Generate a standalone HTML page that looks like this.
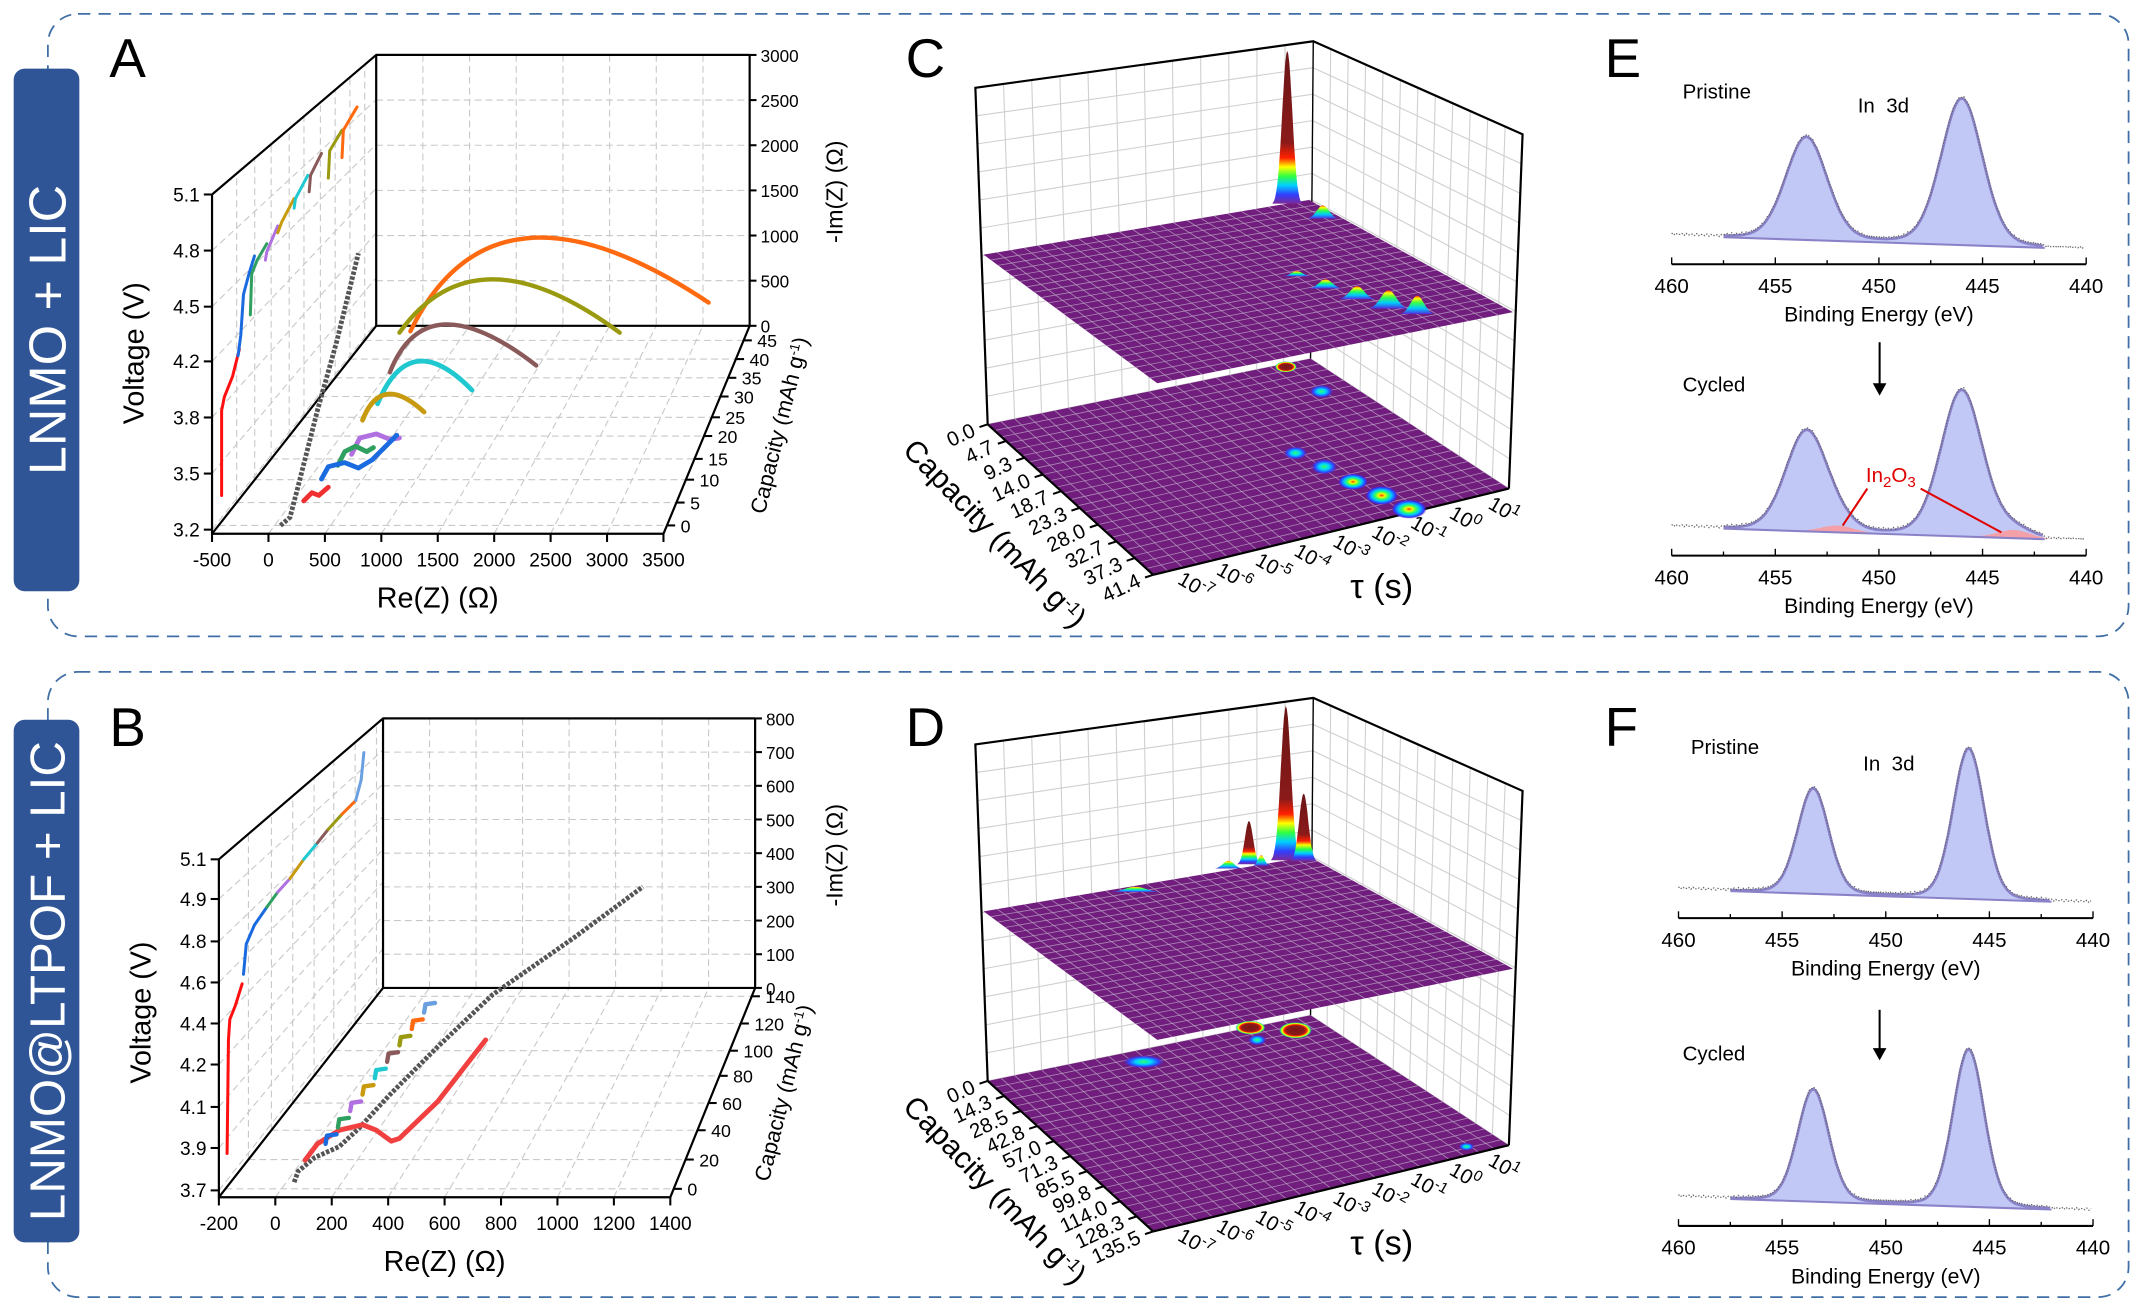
<!DOCTYPE html>
<html><head><meta charset="utf-8">
<style>
html,body{margin:0;padding:0;background:#fff;}
svg{display:block;font-family:"Liberation Sans",Arial,sans-serif;}
</style></head>
<body>
<svg id="s" width="2145" height="1311" viewBox="0 0 1568 958" xmlns="http://www.w3.org/2000/svg">
<defs>
<linearGradient id="spk" x1="0" y1="1" x2="0" y2="0">
<stop offset="0" stop-color="#7b2a9a"/><stop offset="0.06" stop-color="#3040ff"/><stop offset="0.12" stop-color="#00d0ff"/><stop offset="0.18" stop-color="#30ff40"/><stop offset="0.24" stop-color="#ffff00"/><stop offset="0.3" stop-color="#ff2000"/><stop offset="0.4" stop-color="#8a1a1a"/><stop offset="1" stop-color="#6a1515"/>
</linearGradient>
<linearGradient id="bmp" x1="0" y1="1" x2="0" y2="0">
<stop offset="0" stop-color="#5030e0"/><stop offset="0.3" stop-color="#00c8ff"/><stop offset="0.6" stop-color="#30ff50"/><stop offset="0.85" stop-color="#ffff00"/><stop offset="1" stop-color="#ff3000"/>
</linearGradient>
<radialGradient id="blob">
<stop offset="0" stop-color="#ff3000"/><stop offset="0.2" stop-color="#f0ff00"/><stop offset="0.4" stop-color="#30ff60"/><stop offset="0.6" stop-color="#00c8ff"/><stop offset="0.85" stop-color="#3030ff"/><stop offset="1" stop-color="#701c7c" stop-opacity="0"/>
</radialGradient>
<radialGradient id="blob2">
<stop offset="0" stop-color="#30ff60"/><stop offset="0.35" stop-color="#00d8ff"/><stop offset="0.7" stop-color="#3040ff"/><stop offset="1" stop-color="#701c7c" stop-opacity="0"/>
</radialGradient>
<radialGradient id="ring">
<stop offset="0" stop-color="#7a1515"/><stop offset="0.55" stop-color="#8a1a1a"/><stop offset="0.7" stop-color="#ff2000"/><stop offset="0.8" stop-color="#ffff00"/><stop offset="0.9" stop-color="#30ff60"/><stop offset="1" stop-color="#3040ff" stop-opacity="0"/>
</radialGradient>
</defs>
<g id="g"></g>
</svg>
<script>
var o=[];
function L(x1,y1,x2,y2,st){o.push('<line x1="'+x1+'" y1="'+y1+'" x2="'+x2+'" y2="'+y2+'" '+(st||'stroke="#000" stroke-width="1.5"')+'/>');}
function T(x,y,t,sz,an,ex){o.push('<text x="'+x+'" y="'+y+'" font-size="'+sz+'" text-anchor="'+(an||'start')+'" '+(ex||'')+'>'+t+'</text>');}
function P(d,st){o.push('<path d="'+d+'" '+st+'/>');}
function pts(a){return a.map(function(p){return p[0].toFixed(1)+','+p[1].toFixed(1)}).join(' ');}
function PL(a,st){o.push('<polyline points="'+pts(a)+'" fill="none" '+st+'/>');}
function PG(a,st){o.push('<polygon points="'+pts(a)+'" '+st+'/>');}
function lerp(a,b,t){return [a[0]+(b[0]-a[0])*t,a[1]+(b[1]-a[1])*t];}

o.push('<rect x="35" y="10" width="1521" height="455" rx="22" fill="none" stroke="#3f6fa6" stroke-width="1.3" stroke-dasharray="9 6"/>');
o.push('<rect x="35" y="491" width="1521" height="457" rx="22" fill="none" stroke="#3f6fa6" stroke-width="1.3" stroke-dasharray="9 6"/>');
o.push('<rect x="10" y="50" width="48" height="382" rx="8" fill="#2f5597"/>');
o.push('<rect x="10" y="526" width="48" height="382" rx="8" fill="#2f5597"/>');
T(0,0,'LNMO + LIC',38,'middle','fill="#fff" transform="translate(48,241) rotate(-90)"');
T(0,0,'LNMO@LTPOF + LIC',36,'middle','fill="#fff" transform="translate(47,717) rotate(-90)"');
T(80,56,'A',40);T(80,545,'B',40);T(662,56,'C',40);T(662,545,'D',40);T(1173,56,'E',40);T(1173,545,'F',40);

var gd='stroke="#c8c8c8" stroke-width="0.8" stroke-dasharray="5 3"';
function nyq(cfg){
 var FL=cfg.FL,FR=cfg.FR,BR=cfg.BR,BL=cfg.BL,top=cfg.top;
 for(var i=0;i<cfg.nre;i++){var p=lerp(BL,BR,i/(cfg.nre-1));L(p[0],top,p[0],BL[1],gd);}
 for(var i=0;i<cfg.nim;i++){var y=top+(BL[1]-top)*i/(cfg.nim-1);L(BL[0],y,BR[0],y,gd);}
 for(var i=0;i<cfg.nre;i++){var a=lerp(FL,FR,i/(cfg.nre-1)),b=lerp(BL,BR,i/(cfg.nre-1));L(a[0],a[1],b[0],b[1],gd);}
 for(var i=0;i<cfg.ncap;i++){var v=cfg.capv[i];var a=lerp(FL,BL,v),b=lerp(FR,BR,v);L(a[0],a[1],b[0],b[1],gd);}
 for(var i=0;i<cfg.volt.length;i++){var yf=cfg.volt[i][1];var yb=cfg.lwTop+(BL[1]-cfg.lwTop)*(yf-cfg.vtop)/(FL[1]-cfg.vtop);L(FL[0],yf,BL[0],yb,gd);}
 for(var i=1;i<cfg.ncap;i++){var v=cfg.capv[i];var a=lerp(FL,BL,v);var tt=lerp([FL[0],cfg.vtop],[BL[0],cfg.lwTop],v);L(a[0],a[1],tt[0],tt[1],gd);}
 var k='stroke="#000" stroke-width="1.6" fill="none"';
 PL([[FL[0],cfg.vtop],[BL[0],cfg.lwTop],[BR[0],cfg.lwTop]],k);
 PL([[BL[0],cfg.lwTop],[BL[0],BL[1]],[BR[0],BR[1]],[BR[0],top]],k);
 PL([[BL[0],top],[BR[0],top]],k);
 PL([[FL[0],cfg.vtop],FL,FR,BR],k);
 L(FL[0],FL[1],BL[0],BL[1],k);
 cfg.volt.forEach(function(t){L(FL[0]-6,t[1],FL[0],t[1]);T(FL[0]-9,t[1]+5,t[0],14,'end');});
 cfg.re.forEach(function(t,i){var p=lerp(FL,FR,i/(cfg.re.length-1));L(p[0],FL[1],p[0],FL[1]+6);T(p[0],FL[1]+24,t,14,'middle');});
 cfg.im.forEach(function(t,i){var y=top+(BL[1]-top)*i/(cfg.im.length-1);L(BR[0],y,BR[0]+5,y);T(BR[0]+8,y+5,t,12.5);});
 cfg.cap.forEach(function(t,i){var p=lerp(FR,BR,cfg.capv[i]);L(p[0],p[1],p[0]+6,p[1]);T(p[0]+10,p[1]+5,t,13);});
}
nyq({FL:[155,390],FR:[485,390],BR:[548,238],BL:[275,238],top:40,lwTop:40,vtop:142,nre:9,nim:7,ncap:10,
 capv:[0.04,0.15,0.26,0.36,0.47,0.56,0.66,0.75,0.84,0.93],
 volt:[['5.1',142],['4.8',183],['4.5',224],['4.2',264],['3.8',305],['3.5',346],['3.2',387]],
 re:['-500','0','500','1000','1500','2000','2500','3000','3500'],
 im:['3000','2500','2000','1500','1000','500','0'],
 cap:['0','5','10','15','20','25','30','35','40','45']});
nyq({FL:[160,875],FR:[490,875],BR:[552,722],BL:[280,722],top:525,lwTop:525,vtop:628,nre:9,nim:9,ncap:8,
 capv:[0.04,0.18,0.32,0.45,0.58,0.7,0.83,0.96],
 volt:[['5.1',628],['4.9',657],['4.8',688],['4.6',718],['4.4',748],['4.2',778],['4.1',809],['3.9',839],['3.7',870]],
 re:['-200','0','200','400','600','800','1000','1200','1400'],
 im:['800','700','600','500','400','300','200','100','0'],
 cap:['0','20','40','60','80','100','120','140']});
T(0,0,'Voltage (V)',21,'middle','transform="translate(105,258) rotate(-90)"');
T(0,0,'Voltage (V)',21,'middle','transform="translate(110,740) rotate(-90)"');
T(320,444,'Re(Z) (Ω)',21,'middle');T(325,929,'Re(Z) (Ω)',21,'middle');
T(0,0,'-Im(Z) (Ω)',17,'middle','transform="translate(616,140) rotate(-90)"');
T(0,0,'-Im(Z) (Ω)',17,'middle','transform="translate(616,625) rotate(-90)"');
T(0,0,'Capacity (mAh g<tspan dy="-5" font-size="10">-1</tspan><tspan dy="5">)</tspan>',16,'middle','transform="translate(575,312) rotate(-76)"');
T(0,0,'Capacity (mAh g<tspan dy="-5" font-size="10">-1</tspan><tspan dy="5">)</tspan>',16,'middle','transform="translate(578,800) rotate(-76)"');

function Q(s,p,e,col,w){var c=[2*p[0]-(s[0]+e[0])/2,2*p[1]-(s[1]+e[1])/2];P('M'+s+' Q'+c+' '+e,'fill="none" stroke="'+col+'" stroke-width="'+(w||3)+'" stroke-linecap="round"');}
function C(a,col,w){PL(a,'stroke="'+col+'" stroke-width="'+(w||3)+'" stroke-linejoin="round" stroke-linecap="round"');}
Q([300,242],[385,174],[518,221],'#ff6a10',3.2);
Q([292,243],[360,204],[453,243],'#9a9a10',3.2);
Q([285,272],[325,237],[392,267],'#8a5a5a',3.2);
Q([276,295],[305,264],[345,285],'#20c8d0',3.5);
Q([265,307],[283,288],[310,301],'#c89a10',3.5);
C([[257,332],[263,320],[275,317],[285,321],[292,320]],'#b070e0',3.5);
C([[247,340],[252,330],[260,326],[268,330],[273,327]],'#30a060',3.5);
C([[235,350],[240,341],[252,338],[262,342],[272,336],[290,318]],'#1a6ae0',3.5);
C([[222,366],[228,360],[233,362],[240,356]],'#f03030',3.5);
PL([[205,384],[212,378],[218,355],[232,300],[246,250],[262,185]],'stroke="#555" stroke-width="3.5" stroke-dasharray="2.5 1.2"');
C([[162,362],[162,300],[164,290],[170,275],[175,255]],'#ff1010',2.2);
C([[174,260],[176,245],[178,215],[182,200],[186,187]],'#1a6ae0',2.2);
C([[183,230],[184,200],[188,190],[195,178]],'#30a060',2.2);
C([[194,190],[195,184],[203,165]],'#b070e0',2.2);
C([[203,170],[206,162],[215,145]],'#c89a10',2.2);
C([[215,152],[216,145],[225,128]],'#20c8d0',2.2);
C([[226,140],[227,128],[235,112]],'#8a5a5a',2.2);
C([[240,130],[241,110],[250,95]],'#9a9a10',2.2);
C([[250,115],[251,95],[261,78]],'#ff6a10',2.2);
PL([[215,864],[218,856],[230,846],[248,838],[262,825],[285,800],[320,765],[360,727],[420,685],[470,648]],'stroke="#555" stroke-width="3.5" stroke-dasharray="2.5 1.2"');
C([[223,848],[232,836],[248,826],[265,822],[275,826],[286,834],[292,832],[320,805],[355,760]],'#f04040',3.6);
var stc=['#1a6ae0','#30a060','#b070e0','#c89a10','#20c8d0','#8a5a5a','#9a9a10','#ff6a10','#6aa0e0'];
for(var i=0;i<9;i++){var x=238+i*9,y=830-i*12;C([[x,y+6],[x+1,y],[x+8,y-1]],stc[i],3.2);}
C([[166,843],[167,760],[168,745],[172,735],[177,719]],'#ff1010',2.2);
C([[178,712],[180,690],[186,676],[195,663]],'#1a6ae0',2.2);
C([[195,663],[203,652]],'#30a060',2.2);C([[203,652],[212,642]],'#b070e0',2.2);
C([[212,642],[222,628]],'#c89a10',2.2);C([[222,628],[232,616]],'#20c8d0',2.2);
C([[232,616],[240,606]],'#8a5a5a',2.2);C([[240,606],[250,595]],'#9a9a10',2.2);
C([[250,595],[260,585]],'#ff6a10',2.2);C([[260,585],[264,570],[266,550]],'#6aa0e0',2.2);

function drt(dy,D){
 var TL=[713,64+dy],BT=[960,30+dy],RT=[1113,98+dy],LB=[722,310+dy],BB=[958,262+dy],RB=[1103,357+dy],FF=[843,420+dy];
 var g='stroke="#cfcfcf" stroke-width="0.8"';
 for(var i=0;i<=12;i++){var a=lerp(TL,BT,i/12),b=lerp(LB,BB,i/12);L(a[0],a[1],b[0],b[1],g);var c=lerp(BT,RT,i/12),d=lerp(BB,RB,i/12);L(c[0],c[1],d[0],d[1],g);}
 for(var i=1;i<=12;i++){var a=lerp(TL,LB,i/12),b=lerp(BT,BB,i/12),c=lerp(RT,RB,i/12);L(a[0],a[1],b[0],b[1],g);L(b[0],b[1],c[0],c[1],g);}
 var k='stroke="#000" stroke-width="1.6" fill="none"';
 PL([LB,TL,BT,RT,RB],k);L(BT[0],BT[1],BB[0],BB[1],'stroke="#000" stroke-width="1"');
 function plane(A,B,Cc,Dd){PG([A,B,Cc,Dd],'fill="#711d7e"');var gg='stroke="#b9a3c0" stroke-width="0.6" stroke-opacity="0.8"';
  for(var i=1;i<24;i++){var a=lerp(A,B,i/24),b=lerp(Dd,Cc,i/24);L(a[0],a[1],b[0],b[1],gg);var c=lerp(A,Dd,i/24),d=lerp(B,Cc,i/24);L(c[0],c[1],d[0],d[1],gg);}}
 plane(LB,FF,RB,BB);
 plane([719,186+dy],[846,280+dy],[1106,228+dy],[957,146+dy]);
 L(LB[0],LB[1],FF[0],FF[1],k);L(FF[0],FF[1],RB[0],RB[1],k);
 var cl=D?['0.0','14.3','28.5','42.8','57.0','71.3','85.5','99.8','114.0','128.3','135.5']:['0.0','4.7','9.3','14.0','18.7','23.3','28.0','32.7','37.3','41.4'];
 cl.forEach(function(t,i){var p=lerp(LB,FF,i/(cl.length-1));L(p[0]-6,p[1]+2,p[0],p[1]);T(0,0,t,15,'end','transform="translate('+(p[0]-8)+','+(p[1]+8)+') rotate(-25)"');});
 var tl=['7','6','5','4','3','2','1','0','1'];
 tl.forEach(function(t,i){var p=lerp([868,414+dy],[1095,359+dy],i/8);var s=(i<7?'-':'');T(0,0,'10<tspan dy="-6" font-size="11">'+(i==7?'0':s+t)+'</tspan>',15,'start','transform="translate('+(p[0]-8)+','+(p[1]+12)+') rotate(30)"');});
 T(0,0,'Capacity (mAh g<tspan dy="-7" font-size="13">-1</tspan><tspan dy="7">)</tspan>',22,'middle','transform="translate(722,'+(395+dy)+') rotate(46)"');
 T(1010,437+dy,'τ (s)',25,'middle');
}
function spike(cx,base,top,hw){var a=[];for(var i=0;i<=30;i++){var t=-1+i/15;var y=base-(base-top)*Math.exp(-t*t*4.5);a.push([cx+t*hw,y]);}PG(a,'fill="url(#spk)"');}
function bump(cx,base,h,hw){var a=[];for(var i=0;i<=20;i++){var t=-1+i/10;a.push([cx+t*hw,base-h*Math.exp(-t*t*3)]);}PG(a,'fill="url(#bmp)"');}
function blob(x,y,rx,ry,id){o.push('<ellipse cx="'+x+'" cy="'+y+'" rx="'+rx+'" ry="'+ry+'" fill="url(#'+(id||'blob')+')"/>');}
drt(0,false);
spike(941,150,37,11);
bump(967,160,10,11);bump(948,202,4,10);bump(969,211,7,12);bump(992,219,10,13);bump(1015,226,14,14);bump(1036,230,14,12);
blob(940,268,8,4,'ring');blob(966,286,9,5,'blob2');blob(947,331,9,5,'blob2');blob(968,341,10,6,'blob2');blob(989,352,11,6,'blob');blob(1010,362,12,7,'blob');blob(1030,372,13,7,'blob');
drt(480,true);
bump(830,652,4,18);bump(898,635,6,10);spike(913,632,600,9);bump(922,633,8,6);spike(940,630,516,11);spike(953,630,580,10);
blob(914,751,11,5,'ring');blob(947,753,12,6,'ring');blob(919,760,7,4,'blob2');blob(836,776,16,5,'blob2');blob(1072,838,6,3,'blob2');

function xps(ox,oy,p1,p2,sg,red){
 var X=function(e){return 1222+ox+(460-e)*15.15;};
 var bl=function(e){return oy+172+(460-e)*0.5;};
 var axy=oy+193;
 L(1222+ox,axy,1525+ox,axy);
 for(var e=460;e>=440;e-=2.5){var x=X(e);L(x,axy,x,axy-(e%5==0?5:3),'stroke="#000" stroke-width="1"');}
 [460,455,450,445,440].forEach(function(e){T(X(e),axy+21,e,15,'middle');});
 T(X(450),axy+42,'Binding Energy (eV)',15.5,'middle');
 var a=[],n=[];
 function f(e){var v=p1[1]*Math.exp(-Math.pow((e-453.5)/sg,2)/2)*0.85+p1[1]*0.15/(1+Math.pow((e-453.5)/sg/1.2,2));
  v+=p2[1]*Math.exp(-Math.pow((e-446)/sg,2)/2)*0.85+p2[1]*0.15/(1+Math.pow((e-446)/sg/1.2,2));
  if(red){v+=5*Math.exp(-Math.pow((e-452)/0.8,2)/2)+6*Math.exp(-Math.pow((e-443.5)/0.8,2)/2);}return v;}
 for(var e=457.5;e>=442;e-=0.1){a.push([X(e),bl(e)-f(e)]);}
 var fill=a.concat([[X(442),bl(442)],[X(457.5),bl(457.5)]]);
 PG(fill,'fill="#c2c8f5" stroke="none"');
 if(red){var r1=[],r2=[];for(var e=454;e>=450;e-=0.1)r1.push([X(e),bl(e)-5*Math.exp(-Math.pow((e-452)/0.8,2)/2)]);for(var e=445.5;e>=441.5;e-=0.1)r2.push([X(e),bl(e)-6*Math.exp(-Math.pow((e-443.5)/0.8,2)/2)]);PG(r1,'fill="#f4a0a8"');PG(r2,'fill="#f4a0a8"');}
 PL(a,'stroke="#8a82c8" stroke-width="2"');
 L(X(457.5),bl(457.5),X(442),bl(442),'stroke="#8a82c8" stroke-width="1.5"');
 for(var e=460;e>=440;e-=0.1){n.push([X(e),bl(e)-(e<457.5&&e>442?f(e):0)-1.2+Math.sin(e*37)*0.8]);}
 PL(n,'stroke="#666" stroke-width="0.9" stroke-dasharray="1 1.2"');
}
xps(0,0,[0,75],[0,107],1.0,false);
T(1230,72,'Pristine',15);T(1358,82,'In&#160;&#160;3d',15);
L(1374,250,1374,282);PG([[1369,280],[1379,280],[1374,289]],'fill="#000"');
T(1230,286,'Cycled',15);
xps(0,213,[0,73],[0,107],1.0,true);
T(1364,352,'In<tspan dy="4" font-size="11">2</tspan><tspan dy="-4">O</tspan><tspan dy="4" font-size="11">3</tspan>',15,'start','fill="#e00000"');
L(1365,357,1347,384,'stroke="#e00000" stroke-width="1.5"');L(1404,357,1463,389,'stroke="#e00000" stroke-width="1.5"');
xps(5,478,[0,77],[0,110],0.75,false);
T(1236,551,'Pristine',15);T(1362,563,'In&#160;&#160;3d',15);
L(1374,738,1374,768);PG([[1369,766],[1379,766],[1374,775]],'fill="#000"');
T(1230,775,'Cycled',15);
xps(5,703,[0,82],[0,115],0.75,false);
document.getElementById('g').innerHTML=o.join('');
</script>
</body></html>
